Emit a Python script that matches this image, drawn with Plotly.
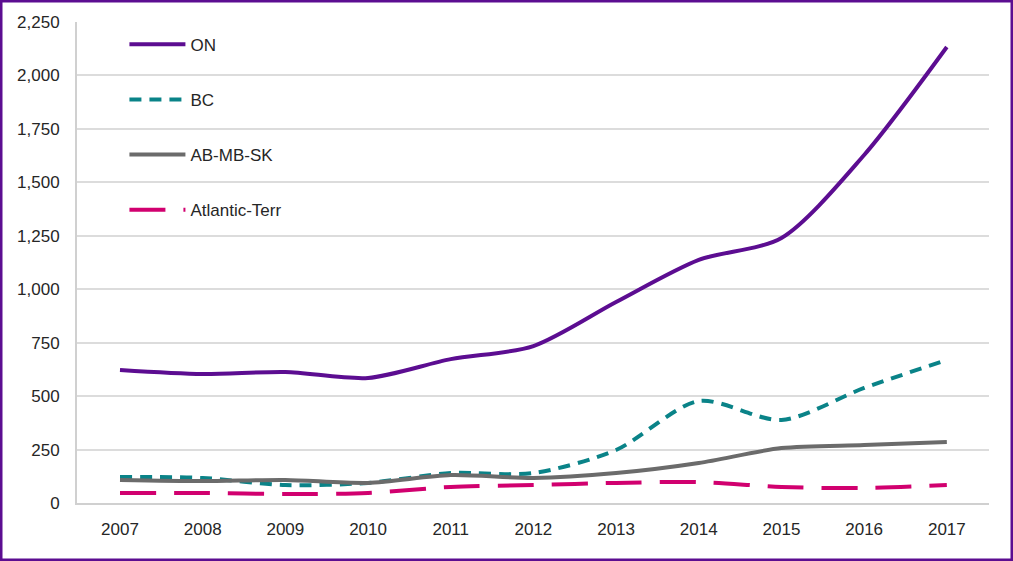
import plotly.graph_objects as go

# ── 데이터 ─────────────────────────────────────────────
years = [2007, 2008, 2009, 2010, 2011, 2012, 2013, 2014, 2015, 2016, 2017]
on_vals = [622, 603, 613, 585, 673, 734, 940, 1137, 1240, 1628, 2133]
bc_vals = [122, 117, 84, 94, 140, 140, 248, 477, 388, 538, 669]
ab_vals = [108, 103, 108, 94, 131, 117, 140, 187, 257, 271, 285]
atl_vals = [47, 47, 42, 47, 75, 84, 94, 98, 75, 70, 84]

series = [
    ("ON", on_vals, "#5C0D91", "solid"),
    ("BC", bc_vals, "#0A8388", "12px,8px"),
    ("AB-MB-SK", ab_vals, "#6B6B6B", "solid"),
    ("Atlantic-Terr", atl_vals, "#D1006F", "36px,18px"),
]

fig = go.Figure()
for name, vals, color, dash in series:
    fig.add_trace(go.Scatter(
        x=years, y=vals, name=name, mode="lines", legendgroup=name,
        line=dict(color=color, width=4, dash=dash, shape="spline", smoothing=0.8),
    ))

fig.update_layout(
    width=1013, height=561,
    margin=dict(l=77, r=24, t=22, b=58),
    paper_bgcolor="white", plot_bgcolor="white",
    font=dict(family="Liberation Sans, Arial, sans-serif", size=17, color="#262626"),
    showlegend=True,
    legend=dict(
        x=0.052, y=0.99, xanchor="left", yanchor="top",
        bgcolor="rgba(0,0,0,0)", tracegroupgap=30, itemwidth=56,
        font=dict(size=17, color="#262626"),
    ),
)
fig.update_xaxes(
    range=[2006.48, 2017.51], tickmode="array", tickvals=years,
    showgrid=False, showline=True, linecolor="#D0D0D0", linewidth=2,
    ticks="", zeroline=False, ticklabelstandoff=10,
)
fig.update_yaxes(
    range=[0, 2250], tickmode="linear", tick0=0, dtick=250, tickformat=",",
    showgrid=True, gridcolor="#DCDCDC", gridwidth=1.5,
    showline=True, linecolor="#D0D0D0", linewidth=2, zeroline=False,
    ticks="", ticklabelstandoff=12,
)

# 바깥 보라색 테두리
pw, ph = 1013 - 77 - 24, 561 - 22 - 58
fig.add_shape(
    type="rect", xref="paper", yref="paper", layer="above",
    x0=-76 / pw, x1=1 + 23 / pw, y0=-57 / ph, y1=1 + 21 / ph,
    line=dict(color="#5C0D91", width=3), fillcolor="rgba(0,0,0,0)",
)

# 브라우저 기본 body 여백 제거, 모드바 숨김
fig.write_html(
    "out.html",
    config={"displayModeBar": False},
    post_script="document.body.style.margin='0px';",
)
